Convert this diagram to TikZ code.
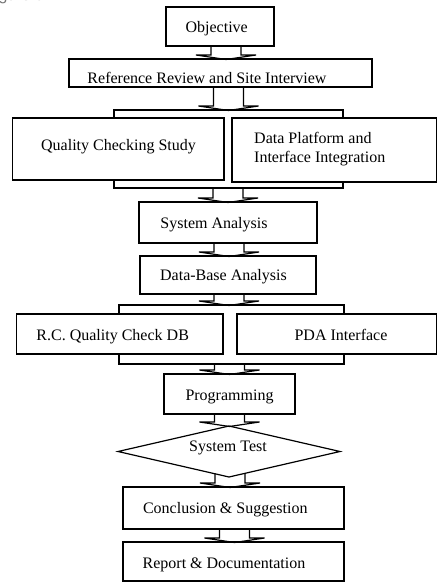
\documentclass[tikz,border=0pt]{standalone}
\usepackage{fontspec}
\setmainfont{Liberation Serif}
\newfontfamily\captionfont{Liberation Sans}
\usetikzlibrary{calc,shapes.geometric}

\tikzset{
  box/.style={draw, line width=1.2pt, fill=white, inner sep=0pt, outer sep=0pt},
  decision/.style={diamond, draw, line width=1.2pt, inner sep=0pt, outer sep=0pt},
  lbl/.style={anchor=base, inner sep=0pt, font=\fontsize{16}{19.7}\selectfont},
  flowarr/.style={line width=1.2pt, line join=miter},
}

% rectangle given by its corners: name, left, top, right, bottom
\newcommand\panel[5]{%
  \node[box, minimum width={(#4)-(#2)}, minimum height={(#5)-(#3)}]
    (#1) at ({((#2)+(#4))/2},{((#3)+(#5)))/2}) {};}

% hollow block arrow: source, target, x shift of the arrow, start offset
\newcommand\flowarrow[4]{%
  \draw[flowarr] let \p1=(#1.south), \p2=(#2.north) in
    (\x2+#3pt-15pt,\y1+#4pt) -- (\x2+#3pt-15pt,\y2+4pt)
    -- (\x2+#3pt-30pt,\y2+4pt) -- (\x2+#3pt,\y2-0.5pt)
    -- (\x2+#3pt+30pt,\y2+4pt) -- (\x2+#3pt+15pt,\y2+4pt)
    -- (\x2+#3pt+15pt,\y1+#4pt);}

\begin{document}
\begin{tikzpicture}[x=1pt, y=-1pt]
  \useasboundingbox (0,0) rectangle (437,583);
  \clip (0,0) rectangle (437,583);

  % caption cut by the top edge
  \node[anchor=base west, inner sep=0pt, text=black!55,
        font=\captionfont\fontsize{16}{19}\selectfont] (fig) at (-15,1) {Figure 3.};

  % boxes
  \panel{obj}{166}{7}{274}{46}
  \panel{ref}{69}{59}{372}{87}
  \panel{grpA}{114}{110}{343}{188}
  \panel{qcs}{12.7}{118}{224}{180}
  \panel{dpi}{232}{118}{436.4}{182}
  \panel{sa}{139}{202}{317}{243}
  \panel{dba}{140}{256}{316}{294}
  \panel{grpB}{119}{305}{344}{364}
  \panel{rc}{16.7}{314}{223}{354}
  \panel{pda}{237}{314}{436.4}{354}
  \panel{prog}{164}{374}{295}{414}
  \node[decision, minimum width=222pt, minimum height=51pt] (st) at (229,451.5) {};
  \panel{conc}{123}{487}{344}{529}
  \panel{rep}{123}{542}{344}{581}

  % texts
  \node[lbl] (tobj) at (216.7,33) {Objective};
  \node[lbl] (tref) at (207,83.5) {Reference Review and Site Interview};
  \node[lbl] (tqcs) at (118.5,150.7) {Quality Checking Study};
  \node[lbl, anchor=base west] (tdpiA) at (254,143) {Data Platform and};
  \node[lbl, anchor=base west] (tdpiB) at (254,162.7) {Interface Integration};
  \node[lbl] (tsa) at (214,228.3) {System Analysis};
  \node[lbl] (tdba) at (223.5,280.7) {Data-Base Analysis};
  \node[lbl] (trc) at (112.7,340) {R.C. Quality Check DB};
  \node[lbl] (tpda) at (341,340) {PDA Interface};
  \node[lbl] (tprog) at (229.5,400) {Programming};
  \node[lbl] (tst) at (228,451.7) {System Test};
  \node[lbl] (tconc) at (225.3,513.3) {Conclusion \& Suggestion};
  \node[lbl] (trep) at (224,568.3) {Report \& Documentation};

  % arrows
  \flowarrow{obj}{ref}{5.5}{0}
  \flowarrow{ref}{grpA}{0}{0}
  \flowarrow{grpA}{sa}{0}{0}
  \flowarrow{sa}{dba}{1}{0}
  \flowarrow{dba}{grpB}{-2.5}{0}
  \flowarrow{grpB}{prog}{0}{0}
  \flowarrow{prog}{st}{0.5}{0}
  \flowarrow{st}{conc}{-3.5}{3.7}
  \flowarrow{conc}{rep}{1}{0}
\end{tikzpicture}
\end{document}
